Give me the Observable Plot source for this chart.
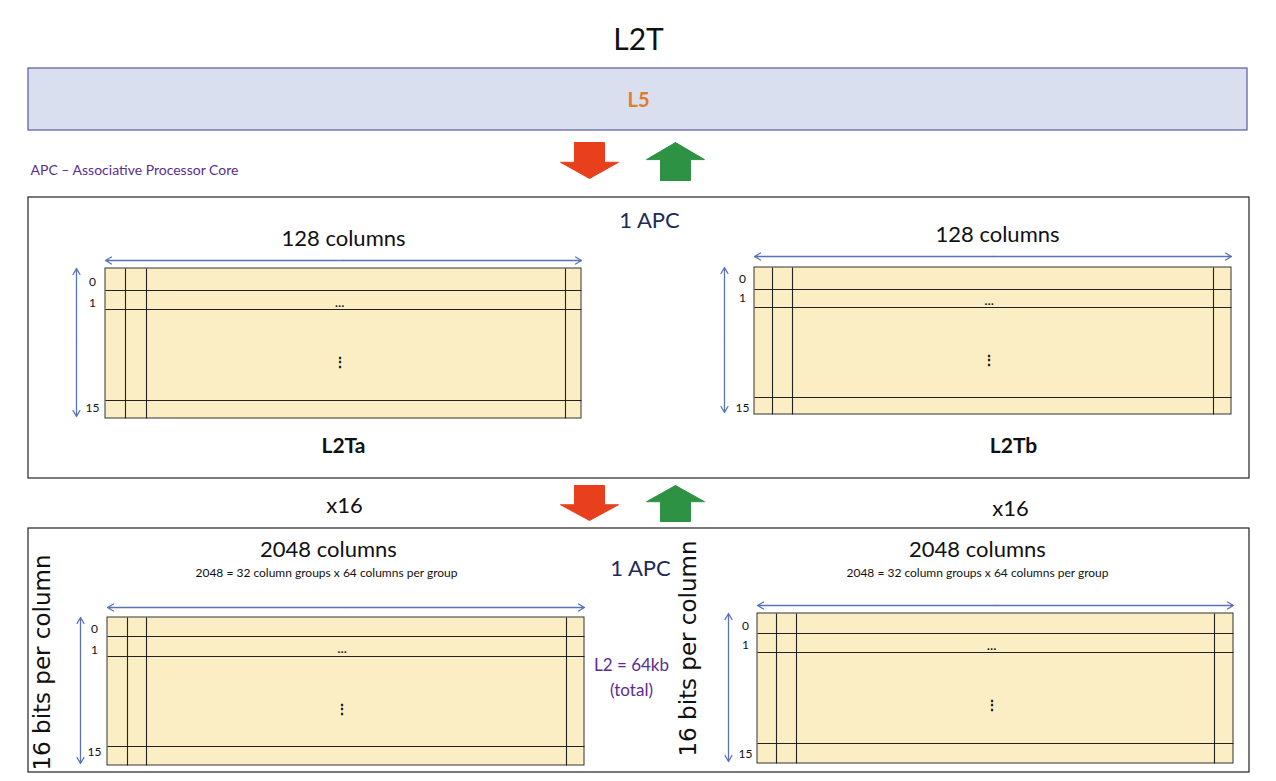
<!DOCTYPE html>
<html>
<head>
<meta charset="utf-8">
<script src="https://cdn.jsdelivr.net/npm/d3@7"></script>
<script src="https://cdn.jsdelivr.net/npm/@observablehq/plot@0.6"></script>
<style>
  body { margin: 0; background: #fff; }
  #chart svg { display: block; }
</style>
</head>
<body>
<div id="chart"></div>
<script>
// outer frames: L5 band and the two APC boxes
const frames = [
  {x1: 28, x2: 1247, y1: 68, y2: 130, fill: "#dadff0", stroke: "#5a5a9a"},
  {x1: 28, x2: 1249, y1: 197, y2: 478, fill: "none", stroke: "#222"},
  {x1: 28, x2: 1249, y1: 528, y2: 772, fill: "none", stroke: "#222"}
]
// memory grids: bounds, row lines, column lines, label x, label ys
const grids = [
  {x1: 105, x2: 581, y1: 268, y2: 418, rows: [290, 309, 400], cols: [125, 146, 565], lx: 92, ly: [282, 303, 408], ax: 76, ay: 260},
  {x1: 754, x2: 1231, y1: 267, y2: 414, rows: [289, 307, 397], cols: [772, 792, 1213], lx: 742, ly: [279, 298, 408], ax: 724, ay: 256},
  {x1: 107, x2: 584, y1: 617, y2: 765, rows: [636, 656, 746], cols: [127, 146, 566], lx: 94, ly: [629, 650, 752], ax: 80, ay: 607},
  {x1: 757, x2: 1233, y1: 613, y2: 763, rows: [633, 652, 743], cols: [776, 796, 1214], lx: 745, ly: [626, 645, 754], ax: 728, ay: 605}
]
const rowLabels = ["0", "1", "15"]
// transfer arrows (block arrows)
const blockArrows = [
  {cx: 589, y1: 142, y2: 178, dir: "down", color: "#e8401c"},
  {cx: 675, y1: 142, y2: 180, dir: "up", color: "#2e9244"},
  {cx: 589, y1: 485, y2: 520, dir: "down", color: "#e8401c"},
  {cx: 675, y1: 485, y2: 521, dir: "up", color: "#2e9244"}
]
// text labels (centered)
const labels = [
  {x: 638, y: 40, text: "L2T", size: 30, color: "#111"},
  {x: 649, y: 220, text: "1 APC", size: 22, color: "#1f2a5a"},
  {x: 343, y: 238, text: "128 columns", size: 22, color: "#111"},
  {x: 997, y: 234, text: "128 columns", size: 22, color: "#111"},
  {x: 344, y: 505, text: "x16", size: 22, color: "#111"},
  {x: 1010, y: 508, text: "x16", size: 22, color: "#111"},
  {x: 640, y: 568, text: "1 APC", size: 22, color: "#1f2a5a"},
  {x: 328, y: 549, text: "2048 columns", size: 22, color: "#111"},
  {x: 977, y: 549, text: "2048 columns", size: 22, color: "#111"},
  {x: 326, y: 573, text: "2048 = 32 column groups x 64 columns per group", size: 12, color: "#111"},
  {x: 977, y: 573, text: "2048 = 32 column groups x 64 columns per group", size: 12, color: "#111"},
  {x: 631, y: 665, text: "L2 = 64kb", size: 17, color: "#5b2d8e"},
  {x: 631, y: 690, text: "(total)", size: 17, color: "#5b2d8e"}
]
const boldLabels = [
  {x: 638, y: 100, text: "L5", size: 20, color: "#e07b2a"},
  {x: 343, y: 446, text: "L2Ta", size: 21, color: "#111"},
  {x: 1013, y: 446, text: "L2Tb", size: 21, color: "#111"}
]
const legendNote = [{x: 30, y: 170, text: "APC – Associative Processor Core"}]
const sideLabels = [
  {x: 42, y: 662, text: "16 bits per column"},
  {x: 688, y: 648, text: "16 bits per column"}
]

const font = "Lato, 'Open Sans', sans-serif"
const blue = "#5a72b8"

// derived geometry for the library
const rowLines = grids.flatMap(g => g.rows.map(y => ({x1: g.x1, x2: g.x2, y})))
const colLines = grids.flatMap(g => g.cols.map(x => ({x, y1: g.y1, y2: g.y2})))
const nums = grids.flatMap(g => g.ly.map((y, i) => ({x: g.lx, y, text: rowLabels[i]})))
const dims = grids.flatMap(g => {
  const mx = (g.x1 + g.x2) / 2, my = (g.y1 + g.y2) / 2
  return [
    {x1: mx, y1: g.ay, x2: g.x1, y2: g.ay}, {x1: mx, y1: g.ay, x2: g.x2, y2: g.ay},
    {x1: g.ax, y1: my, x2: g.ax, y2: g.y1}, {x1: g.ax, y1: my, x2: g.ax, y2: g.y2 - 2}
  ]
})
const hDots = grids.map(g => ({x: (g.x1 + g.x2) / 2 - 4, y: (g.rows[0] + g.rows[1]) / 2 + 3}))
const vDots = grids.map(g => ({x: (g.x1 + g.x2) / 2 - 4, y: (g.rows[1] + g.rows[2]) / 2 + 8}))
const arrowPts = blockArrows.flatMap((a, k) => {
  const hw = 29, sw = 15, h = a.y2 - a.y1, head = h * 0.45
  let pts = a.dir === "down"
    ? [[-sw, 0], [sw, 0], [sw, h - head], [hw, h - head], [0, h], [-hw, h - head], [-sw, h - head], [-sw, 0]]
    : [[-sw, h], [sw, h], [sw, head], [hw, head], [0, 0], [-hw, head], [-sw, head], [-sw, h]]
  return pts.map(([dx, dy]) => ({k, x: a.cx + dx, y: a.y1 + dy, color: a.color}))
})

const chart = Plot.plot({
  width: 1276,
  height: 781,
  margin: 0,
  style: {background: "#fff", fontFamily: font},
  x: {domain: [0, 1276], range: [0, 1276], axis: null},
  y: {domain: [0, 781], range: [0, 781], axis: null},
  marks: [
    Plot.rect(frames, {x1: "x1", x2: "x2", y1: "y1", y2: "y2", fill: d => d.fill, stroke: d => d.stroke, strokeWidth: 1.2}),
    Plot.rect(grids, {x1: "x1", x2: "x2", y1: "y1", y2: "y2", fill: "#fbeec5", stroke: "#333", strokeWidth: 1}),
    Plot.link(rowLines, {x1: "x1", x2: "x2", y1: "y", y2: "y", stroke: "#222", strokeWidth: 1.1}),
    Plot.link(colLines, {x1: "x", x2: "x", y1: "y1", y2: "y2", stroke: "#222", strokeWidth: 1.1}),
    Plot.arrow(dims, {x1: "x1", y1: "y1", x2: "x2", y2: "y2", stroke: blue, strokeWidth: 1.3, headLength: 8, bend: 0}),
    Plot.line(arrowPts, {x: "x", y: "y", z: "k", fill: d => d.color, stroke: d => d.color, strokeWidth: 1, curve: "linear"}),
    Plot.text(nums, {x: "x", y: "y", text: "text", fontSize: 12, fill: "#111", textAnchor: "middle", fontFamily: font}),
    Plot.text(hDots, {x: "x", y: "y", text: () => "…", fontSize: 12, fill: "#111", fontWeight: "bold"}),
    Plot.text(vDots, {x: "x", y: "y", text: () => "⋮", fontSize: 14, fill: "#111", fontWeight: "bold"}),
    Plot.text(labels, {x: "x", y: "y", text: "text", fontSize: d => d.size, fill: d => d.color, textAnchor: "middle", fontFamily: font}),
    Plot.text(boldLabels, {x: "x", y: "y", text: "text", fontSize: d => d.size, fill: d => d.color, textAnchor: "middle", fontWeight: "bold", fontFamily: font}),
    Plot.text(legendNote, {x: "x", y: "y", text: "text", fontSize: 14, fill: "#5b2d8e", textAnchor: "start", fontFamily: font}),
    Plot.text(sideLabels, {x: "x", y: "y", text: "text", rotate: -90, fontSize: 23, fill: "#111", fontFamily: "'DejaVu Sans', sans-serif"})
  ]
})
d3.select("#chart").append(() => chart)
</script>
</body>
</html>
